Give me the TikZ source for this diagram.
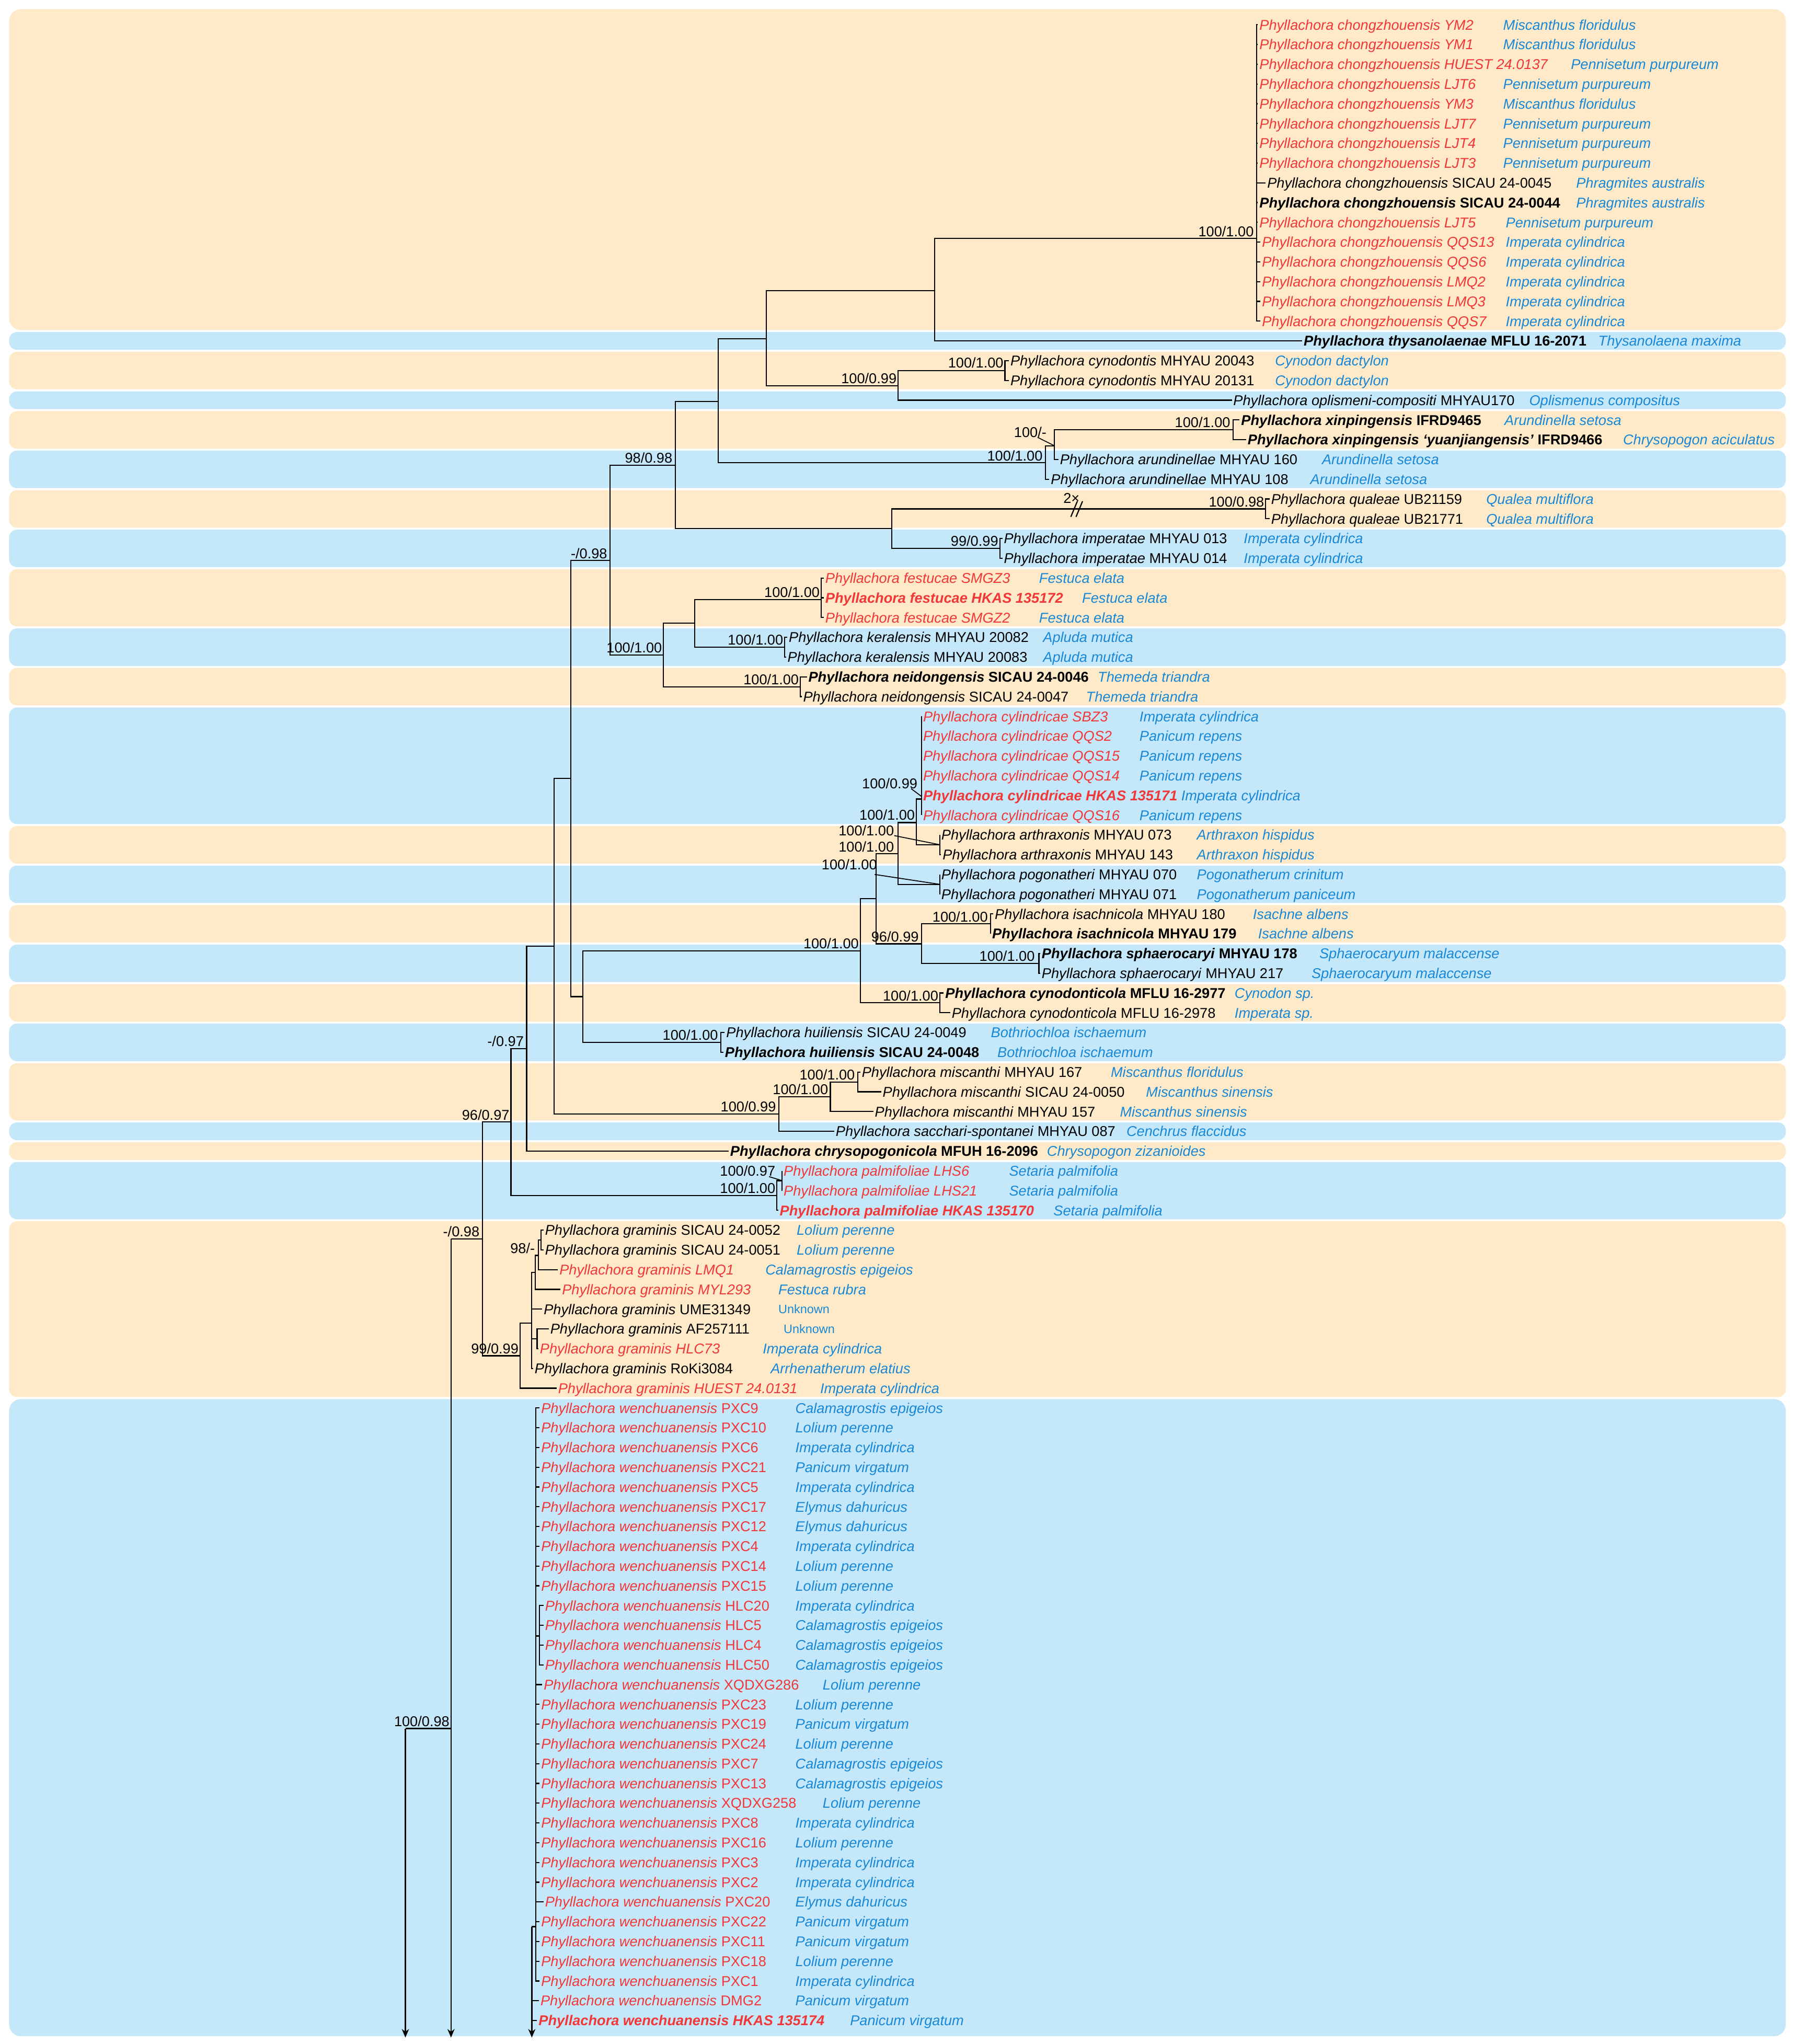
\documentclass[tikz,border=0pt]{standalone}
\usepackage{fontspec}
\setmainfont{Liberation Sans}
\usetikzlibrary{arrows.meta}
\definecolor{bandO}{RGB}{254,233,200}
\definecolor{bandB}{RGB}{197,231,250}
\definecolor{tred}{RGB}{240,56,56}
\definecolor{tblue}{RGB}{24,136,214}
\newcommand\fs{\fontsize{10.9}{13}\selectfont}
\newcommand\Ry[1]{19+15.158*(#1-1)}
\newcommand\Nk[2]{\textit{Phyllachora #1} #2}
\newcommand\Nkb[2]{\textbf{\textit{Phyllachora #1} #2}}
\newcommand\Nr[2]{\textcolor{tred}{\textit{Phyllachora #1 #2}}}
\newcommand\Nrb[2]{\textcolor{tred}{\textbf{\textit{Phyllachora #1 #2}}}}
\newcommand\Nw[1]{\textcolor{tred}{\textit{Phyllachora wenchuanensis} #1}}
\newcommand\lf[5]{%
  \node[nm] (l#1) at ({#2-1},{\Ry{#1}}) {#3};
  \node[host] (h#1) at (#4,{\Ry{#1}}) {#5};}
\newcommand\band[3]{\fill[#1,rounded corners=6pt] (7,{\Ry{#2}-6.8}) rectangle (1370,{\Ry{#3}+6.8});}
\begin{document}
\begin{tikzpicture}[x=1pt,y=-1pt,
  nm/.style={anchor=west,inner xsep=1pt,inner ysep=0pt,text height=7.8pt,text depth=0pt,font=\fs},
  host/.style={anchor=west,inner sep=0pt,text height=7.8pt,text depth=0pt,font=\fs\itshape,text=tblue},
  unk/.style={anchor=west,inner sep=0pt,text height=6.7pt,text depth=0pt,font=\fontsize{9.4}{11}\selectfont,text=tblue},
  sup/.style={anchor=base east,inner sep=0pt,font=\fs},
  br/.style={line width=0.9pt},
  arr/.style={-{Stealth[length=6.5pt,width=5.5pt]}}]
\useasboundingbox (0,0) rectangle (1376,1568);
% ---------- background bands ----------
\fill[bandO,rounded corners=9pt] (7,7) rectangle (1370,{\Ry{16}+6.8});
\band{bandB}{17}{17}
\band{bandO}{18}{19}
\band{bandB}{20}{20}
\band{bandO}{21}{22}
\band{bandB}{23}{24}
\band{bandO}{25}{26}
\band{bandB}{27}{28}
\band{bandO}{29}{31}
\band{bandB}{32}{33}
\band{bandO}{34}{35}
\band{bandB}{36}{41}
\band{bandO}{42}{43}
\band{bandB}{44}{45}
\band{bandO}{46}{47}
\band{bandB}{48}{49}
\band{bandO}{50}{51}
\band{bandB}{52}{53}
\band{bandO}{54}{56}
\band{bandB}{57}{57}
\band{bandO}{58}{58}
\band{bandB}{59}{61}
\band{bandO}{62}{70}
\fill[bandB,rounded corners=9pt] (7,{\Ry{71}-6.8}) rectangle (1370,1562);
% ---------- leaves ----------
\lf{1}{966}{\Nr{chongzhouensis}{YM2}}{1153}{Miscanthus floridulus}
\lf{2}{966}{\Nr{chongzhouensis}{YM1}}{1153}{Miscanthus floridulus}
\lf{3}{966}{\Nr{chongzhouensis}{HUEST 24.0137}}{1205}{Pennisetum purpureum}
\lf{4}{966}{\Nr{chongzhouensis}{LJT6}}{1153}{Pennisetum purpureum}
\lf{5}{966}{\Nr{chongzhouensis}{YM3}}{1153}{Miscanthus floridulus}
\lf{6}{966}{\Nr{chongzhouensis}{LJT7}}{1153}{Pennisetum purpureum}
\lf{7}{966}{\Nr{chongzhouensis}{LJT4}}{1153}{Pennisetum purpureum}
\lf{8}{966}{\Nr{chongzhouensis}{LJT3}}{1153}{Pennisetum purpureum}
\lf{9}{972}{\Nk{chongzhouensis}{SICAU 24-0045}}{1209}{Phragmites australis}
\lf{10}{966}{\Nkb{chongzhouensis}{SICAU 24-0044}}{1209}{Phragmites australis}
\lf{11}{966}{\Nr{chongzhouensis}{LJT5}}{1155}{Pennisetum purpureum}
\lf{12}{968}{\Nr{chongzhouensis}{QQS13}}{1155}{Imperata cylindrica}
\lf{13}{968}{\Nr{chongzhouensis}{QQS6}}{1155}{Imperata cylindrica}
\lf{14}{968}{\Nr{chongzhouensis}{LMQ2}}{1155}{Imperata cylindrica}
\lf{15}{968}{\Nr{chongzhouensis}{LMQ3}}{1155}{Imperata cylindrica}
\lf{16}{968}{\Nr{chongzhouensis}{QQS7}}{1155}{Imperata cylindrica}
\lf{17}{1000}{\Nkb{thysanolaenae}{MFLU 16-2071}}{1226}{Thysanolaena maxima}
\lf{18}{775}{\Nk{cynodontis}{MHYAU 20043}}{978}{Cynodon dactylon}
\lf{19}{775}{\Nk{cynodontis}{MHYAU 20131}}{978}{Cynodon dactylon}
\lf{20}{946}{\Nk{oplismeni-compositi}{MHYAU170}}{1173}{Oplismenus compositus}
\lf{21}{952}{\Nkb{xinpingensis}{IFRD9465}}{1154}{Arundinella setosa}
\lf{22}{957}{\textbf{\textit{Phyllachora xinpingensis ‘yuanjiangensis’} IFRD9466}}{1245}{Chrysopogon aciculatus}
\lf{23}{813}{\Nk{arundinellae}{MHYAU 160}}{1014}{Arundinella setosa}
\lf{24}{806}{\Nk{arundinellae}{MHYAU 108}}{1005}{Arundinella setosa}
\lf{25}{975}{\Nk{qualeae}{UB21159}}{1140}{Qualea multiflora}
\lf{26}{975}{\Nk{qualeae}{UB21771}}{1140}{Qualea multiflora}
\lf{27}{770}{\Nk{imperatae}{MHYAU 013}}{954}{Imperata cylindrica}
\lf{28}{770}{\Nk{imperatae}{MHYAU 014}}{954}{Imperata cylindrica}
\lf{29}{633}{\Nr{festucae}{SMGZ3}}{797}{Festuca elata}
\lf{30}{633}{\Nrb{festucae}{HKAS 135172}}{830}{Festuca elata}
\lf{31}{633}{\Nr{festucae}{SMGZ2}}{797}{Festuca elata}
\lf{32}{605}{\Nk{keralensis}{MHYAU 20082}}{800}{Apluda mutica}
\lf{33}{604}{\Nk{keralensis}{MHYAU 20083}}{800}{Apluda mutica}
\lf{34}{620}{\Nkb{neidongensis}{SICAU 24-0046}}{842}{Themeda triandra}
\lf{35}{616}{\Nk{neidongensis}{SICAU 24-0047}}{833}{Themeda triandra}
\lf{36}{708}{\Nr{cylindricae}{SBZ3}}{874}{Imperata cylindrica}
\lf{37}{708}{\Nr{cylindricae}{QQS2}}{874}{Panicum repens}
\lf{38}{708}{\Nr{cylindricae}{QQS15}}{874}{Panicum repens}
\lf{39}{708}{\Nr{cylindricae}{QQS14}}{874}{Panicum repens}
\lf{40}{708}{\Nrb{cylindricae}{HKAS 135171}}{906}{Imperata cylindrica}
\lf{41}{708}{\Nr{cylindricae}{QQS16}}{874}{Panicum repens}
\lf{42}{722}{\Nk{arthraxonis}{MHYAU 073}}{918}{Arthraxon hispidus}
\lf{43}{723}{\Nk{arthraxonis}{MHYAU 143}}{918}{Arthraxon hispidus}
\lf{44}{722}{\Nk{pogonatheri}{MHYAU 070}}{918}{Pogonatherum crinitum}
\lf{45}{722}{\Nk{pogonatheri}{MHYAU 071}}{918}{Pogonatherum paniceum}
\lf{46}{763}{\Nk{isachnicola}{MHYAU 180}}{961}{Isachne albens}
\lf{47}{761}{\Nkb{isachnicola}{MHYAU 179}}{965}{Isachne albens}
\lf{48}{799}{\Nkb{sphaerocaryi}{MHYAU 178}}{1012}{Sphaerocaryum malaccense}
\lf{49}{799}{\Nk{sphaerocaryi}{MHYAU 217}}{1006}{Sphaerocaryum malaccense}
\lf{50}{725}{\Nkb{cynodonticola}{MFLU 16-2977}}{947}{Cynodon sp.}
\lf{51}{730}{\Nk{cynodonticola}{MFLU 16-2978}}{947}{Imperata sp.}
\lf{52}{557}{\Nk{huiliensis}{SICAU 24-0049}}{760}{Bothriochloa ischaemum}
\lf{53}{556}{\Nkb{huiliensis}{SICAU 24-0048}}{765}{Bothriochloa ischaemum}
\lf{54}{661}{\Nk{miscanthi}{MHYAU 167}}{852}{Miscanthus floridulus}
\lf{55}{677}{\Nk{miscanthi}{SICAU 24-0050}}{879}{Miscanthus sinensis}
\lf{56}{671}{\Nk{miscanthi}{MHYAU 157}}{859}{Miscanthus sinensis}
\lf{57}{641}{\Nk{sacchari-spontanei}{MHYAU 087}}{864}{Cenchrus flaccidus}
\lf{58}{560}{\Nkb{chrysopogonicola}{MFUH 16-2096}}{803}{Chrysopogon zizanioides}
\lf{59}{601}{\Nr{palmifoliae}{LHS6}}{774}{Setaria palmifolia}
\lf{60}{601}{\Nr{palmifoliae}{LHS21}}{774}{Setaria palmifolia}
\lf{61}{598}{\Nrb{palmifoliae}{HKAS 135170}}{808}{Setaria palmifolia}
\lf{62}{418}{\Nk{graminis}{SICAU 24-0052}}{611}{Lolium perenne}
\lf{63}{418}{\Nk{graminis}{SICAU 24-0051}}{611}{Lolium perenne}
\lf{64}{429}{\Nr{graminis}{LMQ1}}{587}{Calamagrostis epigeios}
\lf{65}{431}{\Nr{graminis}{MYL293}}{597}{Festuca rubra}
\node[nm] (l66) at (416,{\Ry{66}}) {\Nk{graminis}{UME31349}};
\node[unk] (h66) at (597,{\Ry{66}}) {Unknown};
\node[nm] (l67) at (421,{\Ry{67}}) {\Nk{graminis}{AF257111}};
\node[unk] (h67) at (601,{\Ry{67}}) {Unknown};
\lf{68}{414}{\Nr{graminis}{HLC73}}{585}{Imperata cylindrica}
\lf{69}{410}{\Nk{graminis}{RoKi3084}}{591}{Arrhenatherum elatius}
\lf{70}{428}{\Nr{graminis}{HUEST 24.0131}}{629}{Imperata cylindrica}
\lf{71}{415}{\Nw{PXC9}}{610}{Calamagrostis epigeios}
\lf{72}{415}{\Nw{PXC10}}{610}{Lolium perenne}
\lf{73}{415}{\Nw{PXC6}}{610}{Imperata cylindrica}
\lf{74}{415}{\Nw{PXC21}}{610}{Panicum virgatum}
\lf{75}{415}{\Nw{PXC5}}{610}{Imperata cylindrica}
\lf{76}{415}{\Nw{PXC17}}{610}{Elymus dahuricus}
\lf{77}{415}{\Nw{PXC12}}{610}{Elymus dahuricus}
\lf{78}{415}{\Nw{PXC4}}{610}{Imperata cylindrica}
\lf{79}{415}{\Nw{PXC14}}{610}{Lolium perenne}
\lf{80}{415}{\Nw{PXC15}}{610}{Lolium perenne}
\lf{81}{418}{\Nw{HLC20}}{610}{Imperata cylindrica}
\lf{82}{418}{\Nw{HLC5}}{610}{Calamagrostis epigeios}
\lf{83}{418}{\Nw{HLC4}}{610}{Calamagrostis epigeios}
\lf{84}{418}{\Nw{HLC50}}{610}{Calamagrostis epigeios}
\lf{85}{417}{\Nw{XQDXG286}}{631}{Lolium perenne}
\lf{86}{415}{\Nw{PXC23}}{610}{Lolium perenne}
\lf{87}{415}{\Nw{PXC19}}{610}{Panicum virgatum}
\lf{88}{415}{\Nw{PXC24}}{610}{Lolium perenne}
\lf{89}{415}{\Nw{PXC7}}{610}{Calamagrostis epigeios}
\lf{90}{415}{\Nw{PXC13}}{610}{Calamagrostis epigeios}
\lf{91}{415}{\Nw{XQDXG258}}{631}{Lolium perenne}
\lf{92}{415}{\Nw{PXC8}}{610}{Imperata cylindrica}
\lf{93}{415}{\Nw{PXC16}}{610}{Lolium perenne}
\lf{94}{415}{\Nw{PXC3}}{610}{Imperata cylindrica}
\lf{95}{415}{\Nw{PXC2}}{610}{Imperata cylindrica}
\lf{96}{418}{\Nw{PXC20}}{610}{Elymus dahuricus}
\lf{97}{415}{\Nw{PXC22}}{610}{Panicum virgatum}
\lf{98}{415}{\Nw{PXC11}}{610}{Panicum virgatum}
\lf{99}{415}{\Nw{PXC18}}{610}{Lolium perenne}
\lf{100}{415}{\Nw{PXC1}}{610}{Imperata cylindrica}
\lf{101}{414.5}{\Nw{DMG2}}{610}{Panicum virgatum}
\lf{102}{413}{\Nrb{wenchuanensis}{HKAS 135174}}{652}{Panicum virgatum}
% ---------- internal nodes ----------
\coordinate (C1) at (964,183);
\coordinate (T1) at (717,223);
\coordinate (Cy) at (771,284.2);
\coordinate (T2) at (689,296);
\coordinate (T3) at (588,260);
\coordinate (X1) at (946,329.7);
\coordinate (X2) at (809,342);
\coordinate (X3) at (802,355);
\coordinate (T4) at (551,308);
\coordinate (Q1) at (971,390.4);
\coordinate (I1) at (767,420.7);
\coordinate (Q2) at (684,405.5);
\coordinate (T5) at (518,357);
\coordinate (F1) at (630,460);
\coordinate (K1) at (602,496.5);
\coordinate (FK) at (533,478);
\coordinate (N1) at (614,526.8);
\coordinate (FKN) at (509,502.5);
\coordinate (T6) at (468,430);
\coordinate (CY) at (707,613);
\coordinate (CYi) at (707,611);
\coordinate (AR) at (721,648);
\coordinate (A) at (703,631);
\coordinate (PG) at (721,678.4);
\coordinate (B) at (689,655);
\coordinate (IS) at (760,708.7);
\coordinate (SP) at (797,739);
\coordinate (D) at (707,724);
\coordinate (C) at (672,689.5);
\coordinate (CD) at (721,769.3);
\coordinate (E) at (660,729.4);
\coordinate (HU) at (553,799.6);
\coordinate (F) at (447,764.5);
\coordinate (M3) at (658,830);
\coordinate (M2) at (637,841.3);
\coordinate (M1) at (597.5,854.6);
\coordinate (G) at (438,597);
\coordinate (H) at (425,725.8);
\coordinate (I) at (404,804.4);
\coordinate (PA1) at (600,905.7);
\coordinate (PA2) at (596,917.1);
\coordinate (J) at (392,860.7);
\coordinate (GR1) at (415,951.2);
\coordinate (GR2) at (413,963);
\coordinate (GR3) at (410.5,976);
\coordinate (GR5) at (412,1027);
\coordinate (GR4) at (407.7,1015);
\coordinate (GR6) at (399,1040);
\coordinate (K) at (370,950.4);
\coordinate (L) at (346,950.4);
\coordinate (Lend) at (346,1563);
\coordinate (M) at (311,1326);
\coordinate (Mr) at (346,1326);
\coordinate (Mend) at (311,1563);
\coordinate (W) at (411,1478);
\coordinate (W1) at (414,1255);
\coordinate (Wb) at (408,1478);
\coordinate (Wend) at (408,1563);
% ---------- branches ----------
\begin{scope}[br]
\foreach \i in {1,...,16} \draw (C1) |- (l\i.west);
\draw (T1) |- (C1); \draw (T1) |- (l17.west);
\draw (Cy) |- (l18.west); \draw (Cy) |- (l19.west);
\draw (T2) |- (Cy); \draw (T2) |- (l20.west);
\draw (T3) |- (T1); \draw (T3) |- (T2);
\draw (X1) |- (l21.west); \draw (X1) |- (l22.west);
\draw (X2) |- (X1); \draw (X2) |- (l23.west);
\draw (X3) |- (X2); \draw (X3) |- (l24.west);
\draw (T4) |- (T3); \draw (T4) |- (X3);
\draw (Q1) |- (l25.west); \draw (Q1) |- (l26.west);
\draw (I1) |- (l27.west); \draw (I1) |- (l28.west);
\draw (Q2) |- (Q1); \draw (Q2) |- (I1);
\draw (T5) |- (T4); \draw (T5) |- (Q2);
\foreach \i in {29,30,31} \draw (F1) |- (l\i.west);
\draw (K1) |- (l32.west); \draw (K1) |- (l33.west);
\draw (FK) |- (F1); \draw (FK) |- (K1);
\draw (N1) |- (l34.west); \draw (N1) |- (l35.west);
\draw (FKN) |- (FK); \draw (FKN) |- (N1);
\draw (T6) |- (T5); \draw (T6) |- (FKN);
\foreach \i in {36,...,41} \draw (CY) |- (l\i.west);
\draw (AR) |- (l42.west); \draw (AR) |- (l43.west);
\draw (A) |- (CY); \draw (A) |- (AR);
\draw (PG) |- (l44.west); \draw (PG) |- (l45.west);
\draw (B) |- (A); \draw (B) |- (PG);
\draw (IS) |- (l46.west); \draw (IS) |- (l47.west);
\draw (SP) |- (l48.west); \draw (SP) |- (l49.west);
\draw (D) |- (IS); \draw (D) |- (SP);
\draw (C) |- (B); \draw (C) |- (D);
\draw (CD) |- (l50.west); \draw (CD) |- (l51.west);
\draw (E) |- (C); \draw (E) |- (CD);
\draw (HU) |- (l52.west); \draw (HU) |- (l53.west);
\draw (F) |- (E); \draw (F) |- (HU);
\draw (M3) |- (l54.west); \draw (M3) |- (l55.west);
\draw (M2) |- (M3); \draw (M2) |- (l56.west);
\draw (M1) |- (M2); \draw (M1) |- (l57.west);
\draw (G) |- (T6); \draw (G) |- (F);
\draw (H) |- (G); \draw (H) |- (M1);
\draw (I) |- (H); \draw (I) |- (l58.west);
\draw (PA1) |- (l59.west); \draw (PA1) |- (l60.west);
\draw (PA2) |- (PA1); \draw (PA2) |- (l61.west);
\draw (J) |- (I); \draw (J) |- (PA2);
\draw (GR1) |- (l62.west); \draw (GR1) |- (l63.west);
\draw (GR2) |- (GR1); \draw (GR2) |- (l64.west);
\draw (GR3) |- (GR2); \draw (GR3) |- (l65.west);
\draw (GR5) |- (l67.west); \draw (GR5) |- (l68.west);
\draw (GR4) |- (GR3); \draw (GR4) |- (l66.west); \draw (GR4) |- (GR5); \draw (GR4) |- (l69.west);
\draw (GR6) |- (GR4); \draw (GR6) |- (l70.west);
\draw (K) |- (J); \draw (K) |- (GR6);
\draw (L) -- (K);
\draw[arr] (L) -- (Lend);
\draw (M) -- (Mr);
\draw[arr] (M) -- (Mend);
\foreach \i in {71,...,80,85,86,...,100} \draw (W) |- (l\i.west);
\draw (W) |- (W1);
\foreach \i in {81,...,84} \draw (W1) |- (l\i.west);
\draw (Wb) -- (W);
\draw[arr] (Wb) -- (Wend);
\draw (Wb) |- (l101.west);
\draw (Wb) |- (l102.west);
% break mark on qualeae branch
\draw (821.5,396.5) -- (826.5,384.5);
\draw (825.5,396.5) -- (830.5,384.5);
\end{scope}
\node[font=\fs,inner sep=0pt] (brk) at (822,382) {2×};
% ---------- support values ----------
\node[sup] (sC1) at (962,181.5) {100/1.00};
\node[sup] (sCy) at (770,282) {100/1.00};
\node[sup] (sT2) at (688,294.3) {100/0.99};
\node[sup] (sX1) at (944,327.7) {100/1.00};
\node[sup] (sX2) at (803,335.5) {100/-};
\node[sup] (sX3) at (800,353.3) {100/1.00};
\node[sup] (sT5) at (516,355.3) {98/0.98};
\node[sup] (sQ1) at (970,388.6) {100/0.98};
\node[sup] (sI1) at (766,418.9) {99/0.99};
\node[sup] (sT6) at (466,428.3) {-/0.98};
\node[sup] (sF1) at (629,458.3) {100/1.00};
\node[sup] (sK1) at (601,494.8) {100/1.00};
\node[sup] (sN1) at (613,525) {100/1.00};
\node[sup] (sFKN) at (508,500.8) {100/1.00};
\node[sup] (sCYi) at (704,605) {100/0.99};
\node[sup] (sA) at (702,628.8) {100/1.00};
\node[sup] (sAR) at (686,641) {100/1.00};
\node[sup] (sB) at (686,653.3) {100/1.00};
\node[sup] (sPG) at (673,667) {100/1.00};
\node[sup] (sIS) at (758,707) {100/1.00};
\node[sup] (sD) at (705,722.3) {96/0.99};
\node[sup] (sSP) at (794,737.3) {100/1.00};
\node[sup] (sE) at (659,727.7) {100/1.00};
\node[sup] (sCD) at (720,767.6) {100/1.00};
\node[sup] (sHU) at (551,797.9) {100/1.00};
\node[sup] (sM3) at (656,828.3) {100/1.00};
\node[sup] (sM2) at (635.5,839.6) {100/1.00};
\node[sup] (sM1) at (595.5,852.9) {100/0.99};
\node[sup] (sI) at (402,802.7) {-/0.97};
\node[sup] (sJ) at (391,859) {96/0.97};
\node[sup] (sPA1) at (595,902) {100/0.97};
\node[sup] (sPA2) at (595,915.4) {100/1.00};
\node[sup] (sK) at (368,948.7) {-/0.98};
\node[sup] (sGR2) at (410.5,961.3) {98/-};
\node[sup] (sGR6) at (398,1038.3) {99/0.99};
\node[sup] (sM) at (345,1324.3) {100/0.98};
% leader lines
\begin{scope}[line width=0.7pt]
\draw ([xshift=-7pt]sX2.base east) -- (X2);
\draw ([xshift=-5pt]sCYi.base east) -- (CYi);
\draw (sAR.base east) -- (AR);
\draw (sPG.base east) ++(-2,3.8) -- (PG);
\draw (sPA1.base east) ++(-5,0.6) -- (PA1);
\end{scope}
\end{tikzpicture}
\end{document}
